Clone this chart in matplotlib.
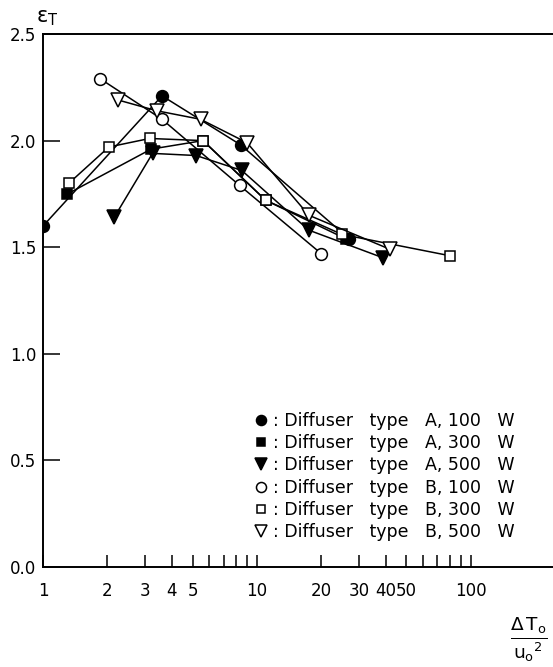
import matplotlib
matplotlib.use("Agg")
import matplotlib.pyplot as plt
from matplotlib.lines import Line2D

# diffuser type A
a100_x = [1.0, 3.6, 8.4, 27.0]
a100_y = [1.60, 2.21, 1.98, 1.54]
a300_x = [1.3, 3.2, 5.6, 11.0, 26.0]
a300_y = [1.75, 1.96, 2.00, 1.72, 1.54]
a500_x = [2.15, 3.25, 5.2, 8.5, 17.5, 39.0]
a500_y = [1.64, 1.94, 1.93, 1.86, 1.58, 1.45]

# diffuser type B
b100_x = [1.85, 3.6, 8.3, 20.0]
b100_y = [2.29, 2.10, 1.79, 1.47]
b300_x = [1.32, 2.03, 3.15, 5.6, 11.0, 25.0, 80.0]
b300_y = [1.80, 1.97, 2.01, 2.00, 1.72, 1.56, 1.46]
b500_x = [2.25, 3.4, 5.45, 9.0, 17.5, 42.0]
b500_y = [2.19, 2.14, 2.10, 1.99, 1.65, 1.49]

labels = [": Diffuser   type   A, 100   W",
          ": Diffuser   type   A, 300   W",
          ": Diffuser   type   A, 500   W",
          ": Diffuser   type   B, 100   W",
          ": Diffuser   type   B, 300   W",
          ": Diffuser   type   B, 500   W"]

xticks = [1, 2, 3, 4, 5, 6, 7, 8, 9, 10, 20, 30, 40, 50, 60, 70, 80, 90, 100]
xticklabels = ["1", "2", "3", "4", "5", "", "", "", "", "10",
               "20", "30", "40", "50", "", "", "", "", "100"]
yticks = [0.0, 0.5, 1.0, 1.5, 2.0, 2.5]

plt.rcParams["font.family"] = "DejaVu Sans"
fig = plt.figure(figsize=(5.53, 6.67), dpi=100)
ax = fig.add_axes([0.078, 0.15, 0.93, 0.799])

series = [
    (a100_x, a100_y, "o", "black", 8.5),
    (a300_x, a300_y, "s", "black", 7.5),
    (a500_x, a500_y, "v", "black", 9.5),
    (b100_x, b100_y, "o", "white", 8.5),
    (b300_x, b300_y, "s", "white", 7.5),
    (b500_x, b500_y, "v", "white", 9.5),
]
handles = []
for x, y, m, fc, ms in series:
    ax.plot(x, y, color="black", lw=1.1, marker=m, ms=ms,
            mfc=fc, mec="black", mew=1.1)
    handles.append(Line2D([], [], ls="none", marker=m, ms=ms * 0.85,
                          mfc=fc, mec="black", mew=1.1))

ax.set_xscale("log")
ax.set_xlim(1, 255)
ax.set_ylim(0, 2.5)
ax.set_xticks(xticks)
ax.set_xticklabels(xticklabels)
ax.xaxis.set_minor_locator(matplotlib.ticker.NullLocator())
ax.set_yticks(yticks)
ax.set_yticklabels([f"{v:.1f}" for v in yticks])
ax.tick_params(axis="x", direction="in", length=9, width=1.1, pad=11, labelsize=12)
ax.tick_params(axis="y", direction="in", length=12, width=1.1, pad=5, labelsize=12)
for s in ["left", "bottom", "top"]:
    ax.spines[s].set_linewidth(1.4)
ax.spines["right"].set_visible(False)

ax.legend(handles, labels, loc="lower left", bbox_to_anchor=(0.44, 0.176),
          bbox_transform=fig.transFigure, frameon=False, fontsize=12.5,
          handlelength=1.0, handletextpad=0.2, labelspacing=0.24,
          borderpad=0)

fig.text(0.066, 0.973, "ε$_\\mathrm{T}$", fontsize=15, ha="left", va="center")
fig.text(0.922, 0.042, r"$\frac{\Delta\,\mathrm{T_o}}{\mathrm{u_o}^{2}}$",
         fontsize=19, ha="left", va="center")

fig.savefig("out.png", dpi=100)
